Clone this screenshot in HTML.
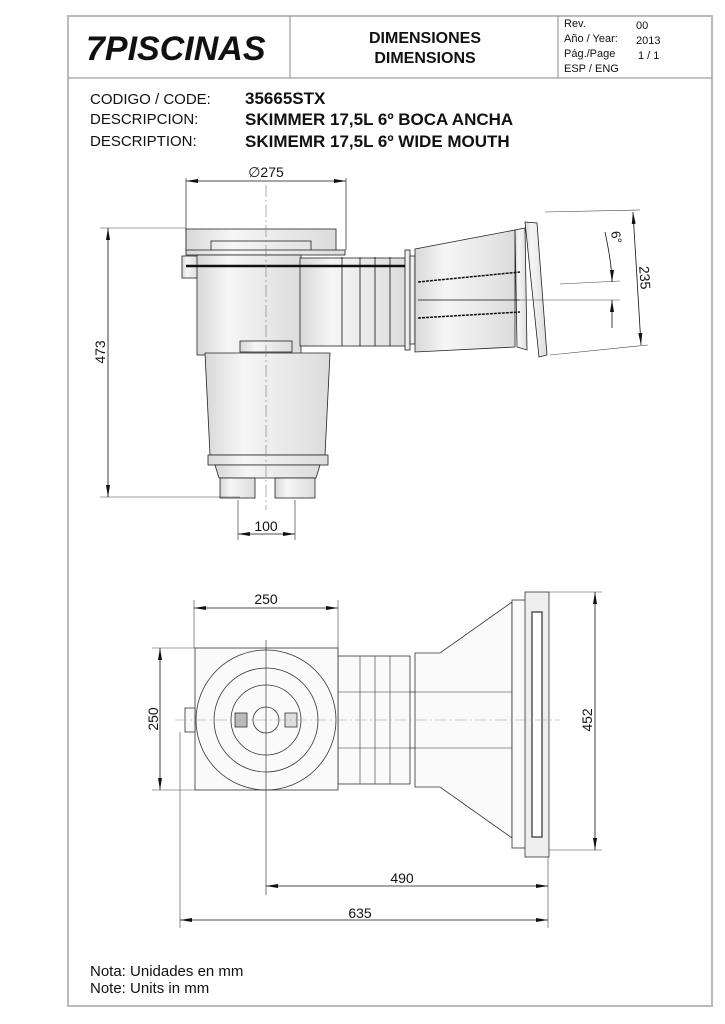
<!DOCTYPE html>
<html><head><meta charset="utf-8"><style>
html,body{margin:0;padding:0;background:#fff;}
svg{display:block;}
text{font-family:"Liberation Sans",sans-serif;fill:#111;}
</style></head><body>
<svg width="725" height="1024" viewBox="0 0 725 1024" xmlns="http://www.w3.org/2000/svg">
<defs>
<marker id="a" viewBox="0 0 12 4" refX="12" refY="2" markerWidth="12" markerHeight="4" orient="auto-start-reverse" markerUnits="userSpaceOnUse"><path d="M0,0 L12,2 L0,4z" fill="#111"/></marker>
<linearGradient id="g" x1="0" x2="1"><stop offset="0" stop-color="#d8d8d8"/><stop offset="0.3" stop-color="#f6f6f6"/><stop offset="1" stop-color="#dcdcdc"/></linearGradient>
</defs>
<!-- frame -->
<rect x="68" y="16" width="644" height="990" fill="none" stroke="#bbb" stroke-width="2"/>
<line x1="68" y1="78" x2="712" y2="78" stroke="#888" stroke-width="1"/>
<line x1="290" y1="16" x2="290" y2="78" stroke="#888"/>
<line x1="558" y1="16" x2="558" y2="78" stroke="#888"/>
<text x="86" y="60" font-size="34" font-weight="bold" font-style="italic">7PISCINAS</text>
<text x="425" y="43" font-size="16" font-weight="bold" text-anchor="middle">DIMENSIONES</text>
<text x="425" y="63" font-size="16" font-weight="bold" text-anchor="middle">DIMENSIONS</text>
<g font-size="11"><text x="564" y="27">Rev.</text><text x="564" y="42">Año / Year:</text><text x="564" y="57">Pág./Page</text><text x="564" y="72">ESP / ENG</text>
<text x="636" y="29">00</text><text x="636" y="44">2013</text><text x="638" y="59">1 / 1</text></g>
<g font-size="15"><text x="90" y="104">CODIGO / CODE:</text><text x="90" y="124">DESCRIPCION:</text><text x="90" y="146">DESCRIPTION:</text></g>
<g font-size="17" font-weight="bold"><text x="245" y="104">35665STX</text><text x="245" y="125">SKIMMER 17,5L 6º BOCA ANCHA</text><text x="245" y="147">SKIMEMR 17,5L 6º WIDE MOUTH</text></g>

<!-- SIDE VIEW -->
<g stroke="#222" stroke-width="0.8" fill="url(#g)">
<line x1="186" y1="178" x2="186" y2="250" stroke="#444" fill="none"/>
<line x1="346" y1="178" x2="346" y2="250" stroke="#444" fill="none"/>
<rect x="186" y="229" width="150" height="22"/>
<rect x="211" y="241" width="100" height="10" fill="none"/>
<rect x="186" y="250" width="159" height="5"/>
<rect x="182" y="256" width="16" height="22"/>
<rect x="197" y="255" width="104" height="100"/>
<rect x="300" y="258" width="106" height="88"/>
<rect x="405" y="250" width="5" height="100"/>
<rect x="410" y="256" width="5" height="88"/>
<polygon points="415,249 515,230 515,347 415,352"/>
<polygon points="515,230 525,228 527,350 517,347"/>
<polygon points="525,222 537,223 547,355 539,357"/>
<rect x="240" y="341" width="52" height="11"/>
<path d="M205,353 L330,353 L325,455 L210,455z"/>
<rect x="208" y="455" width="120" height="10"/>
<path d="M215,465 L320,465 L316,478 L219,478z"/>
<rect x="220" y="478" width="35" height="20"/>
<rect x="275" y="478" width="40" height="20"/>
</g>
<g stroke="#111" fill="none">
<line x1="186" y1="266" x2="405" y2="266" stroke-width="2.5"/>
<line x1="342" y1="257" x2="342" y2="346" stroke-width="0.8"/><line x1="360" y1="257" x2="360" y2="346" stroke-width="0.8"/><line x1="375" y1="257" x2="375" y2="346" stroke-width="0.8"/><line x1="390" y1="257" x2="390" y2="346" stroke-width="0.8"/>
<line x1="418" y1="282" x2="520" y2="272" stroke-width="1.5" stroke-dasharray="3,1"/>
<line x1="418" y1="318" x2="520" y2="312" stroke-width="1.5" stroke-dasharray="3,1"/>
<line x1="418" y1="300" x2="520" y2="300" stroke-width="0.8"/>
<line x1="266" y1="185" x2="266" y2="510" stroke="#777" stroke-width="0.6" stroke-dasharray="12,3,2,3"/>
<line x1="238" y1="500" x2="238" y2="540" stroke="#444" stroke-width="0.7"/>
<line x1="295" y1="500" x2="295" y2="540" stroke="#444" stroke-width="0.7"/>
<line x1="100" y1="228" x2="186" y2="228" stroke="#444" stroke-width="0.6"/>
<line x1="100" y1="497" x2="240" y2="497" stroke="#444" stroke-width="0.6"/>
<line x1="545" y1="212" x2="640" y2="210" stroke="#444" stroke-width="0.6"/>
<line x1="550" y1="355" x2="648" y2="345" stroke="#444" stroke-width="0.6"/>
<line x1="520" y1="300" x2="620" y2="300" stroke="#444" stroke-width="0.6"/>
<line x1="560" y1="284" x2="620" y2="281" stroke="#444" stroke-width="0.6"/>
</g>
<g stroke="#111" stroke-width="0.8" fill="none">
<line x1="186" y1="181" x2="346" y2="181" marker-start="url(#a)" marker-end="url(#a)"/>
<line x1="108" y1="228" x2="108" y2="497" marker-start="url(#a)" marker-end="url(#a)"/>
<line x1="238" y1="534" x2="295" y2="534" marker-start="url(#a)" marker-end="url(#a)"/>
<line x1="633" y1="212" x2="641" y2="345" marker-start="url(#a)" marker-end="url(#a)"/>
<path d="M605,232 Q612,265 612,282" marker-end="url(#a)"/>
<path d="M612,328 Q612,312 612,300" marker-end="url(#a)"/>
</g>
<text x="266" y="177" font-size="14" text-anchor="middle">∅275</text>
<text font-size="14" transform="translate(105,352) rotate(-90)" text-anchor="middle">473</text>
<text x="266" y="531" font-size="14" text-anchor="middle">100</text>
<text font-size="14" transform="translate(640,278) rotate(86)" text-anchor="middle">235</text>
<text font-size="13" transform="translate(612,238) rotate(80)" text-anchor="middle">6°</text>

<!-- TOP VIEW -->
<g stroke="#333" stroke-width="0.8" fill="#fafafa">
<rect x="338" y="656" width="72" height="128"/>
<polygon points="415,653 440,653 512,602 512,838 440,787 415,787"/>
<rect x="512" y="600" width="14" height="248"/>
<rect x="525" y="592" width="24" height="265" fill="#eee"/>
<rect x="532" y="612" width="10" height="225" fill="#fff" stroke="#555" stroke-width="1.5"/>
<rect x="195" y="648" width="143" height="142"/>
<rect x="185" y="708" width="10" height="24"/>
<circle cx="266" cy="720" r="70"/>
<circle cx="266" cy="720" r="52" fill="none"/>
<circle cx="266" cy="720" r="35" fill="none"/>
<circle cx="266" cy="720" r="13" fill="none"/>
<rect x="235" y="713" width="12" height="14" fill="#bbb"/>
<rect x="285" y="713" width="12" height="14" fill="#ddd"/>
</g>
<g stroke="#333" stroke-width="0.6" fill="none">
<line x1="360" y1="656" x2="360" y2="784"/><line x1="375" y1="656" x2="375" y2="784"/><line x1="390" y1="656" x2="390" y2="784"/>
<line x1="338" y1="692" x2="415" y2="692"/><line x1="338" y1="748" x2="415" y2="748"/>
<line x1="410" y1="692" x2="512" y2="692"/><line x1="410" y1="748" x2="512" y2="748"/>
<line x1="175" y1="720" x2="560" y2="720" stroke="#999" stroke-dasharray="12,3,2,3"/>
<line x1="266" y1="640" x2="266" y2="895" stroke="#222"/>
<line x1="194" y1="600" x2="194" y2="648" stroke="#444"/>
<line x1="338" y1="600" x2="338" y2="656" stroke="#444"/>
<line x1="152" y1="648" x2="195" y2="648" stroke="#444"/>
<line x1="152" y1="790" x2="195" y2="790" stroke="#444"/>
<line x1="180" y1="732" x2="180" y2="928" stroke="#444"/>
<line x1="548" y1="857" x2="548" y2="928" stroke="#444"/>
<line x1="549" y1="592" x2="602" y2="592" stroke="#444"/>
<line x1="549" y1="850" x2="602" y2="850" stroke="#444"/>
</g>
<g stroke="#111" stroke-width="0.8" fill="none">
<line x1="194" y1="608" x2="338" y2="608" marker-start="url(#a)" marker-end="url(#a)"/>
<line x1="160" y1="648" x2="160" y2="790" marker-start="url(#a)" marker-end="url(#a)"/>
<line x1="595" y1="592" x2="595" y2="850" marker-start="url(#a)" marker-end="url(#a)"/>
<line x1="266" y1="886" x2="548" y2="886" marker-start="url(#a)" marker-end="url(#a)"/>
<line x1="180" y1="920" x2="548" y2="920" marker-start="url(#a)" marker-end="url(#a)"/>
</g>
<text x="266" y="604" font-size="14" text-anchor="middle">250</text>
<text font-size="14" transform="translate(158,719) rotate(-90)" text-anchor="middle">250</text>
<text font-size="14" transform="translate(592,720) rotate(-90)" text-anchor="middle">452</text>
<text x="402" y="883" font-size="14" text-anchor="middle">490</text>
<text x="360" y="918" font-size="14" text-anchor="middle">635</text>
<text x="90" y="976" font-size="15">Nota: Unidades en mm</text>
<text x="90" y="993" font-size="15">Note: Units in mm</text>
</svg>
</body></html>
